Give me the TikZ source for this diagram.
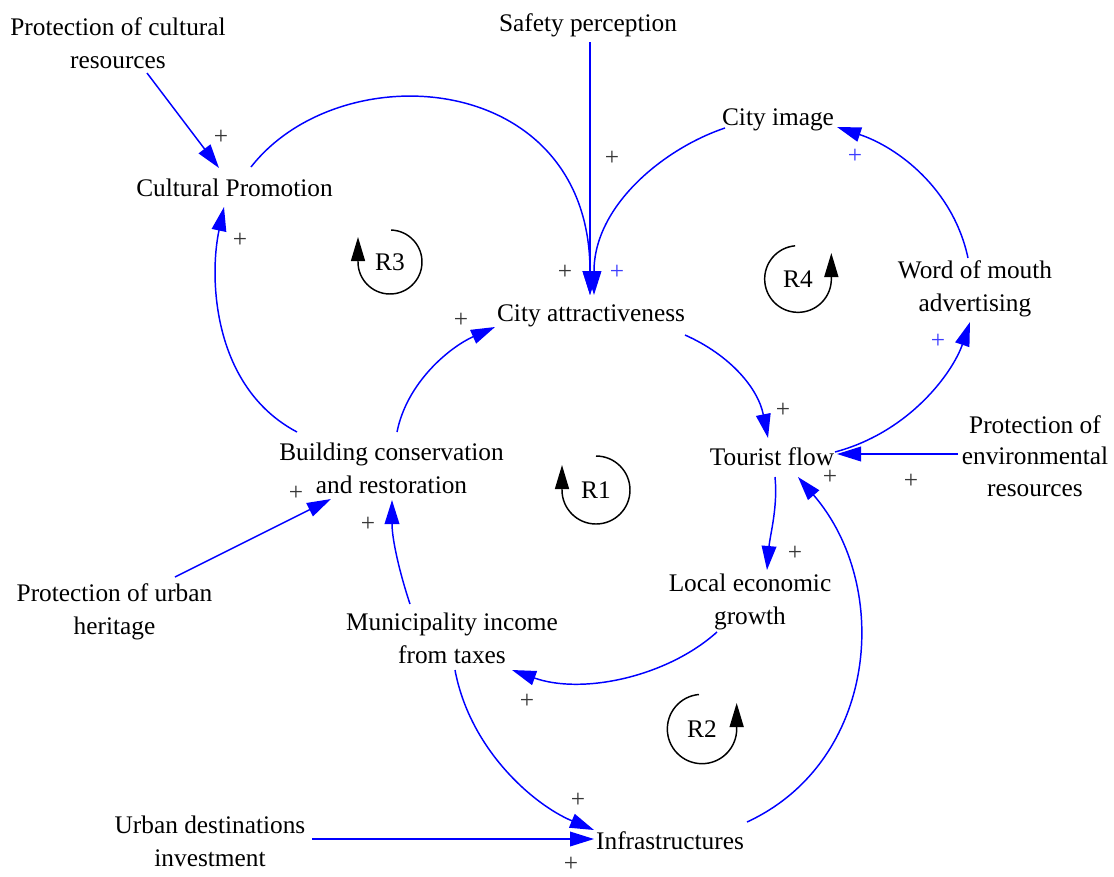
\documentclass[tikz,border=0pt]{standalone}
\usepackage{fontspec}
\setmainfont{Liberation Serif}
\usetikzlibrary{arrows.meta}
\definecolor{cblue}{RGB}{0,0,255}
\definecolor{pblue}{RGB}{60,60,255}
\definecolor{pgray}{RGB}{55,55,55}
\begin{document}
\begin{tikzpicture}[x=0.75pt,y=-0.75pt,
  lbl/.style={font=\fontsize{19}{24.5}\selectfont, align=center, inner sep=0pt},
  conn/.style={draw=cblue, line width=1.1pt, -{Triangle[length=18pt,width=11pt]}},
  loopar/.style={draw=black, line width=1.1pt, -{Triangle[length=18pt,width=10.5pt]}},
  plusd/.style={font=\fontsize{19}{19}\selectfont, text=pgray, inner sep=0pt},
  plusb/.style={font=\fontsize{19}{19}\selectfont, text=pblue, inner sep=0pt}]
\useasboundingbox (0,0) rectangle (1114,876);

% variables
\node[lbl] (pcr) at (118,43) {Protection of cultural\\resources};
\node[lbl] (sp) at (588,25) {Safety perception};
\node[lbl] (ci) at (778,120) {City image};
\node[lbl] (cp) at (234.5,188) {Cultural Promotion};
\node[lbl] (ca) at (591,316) {City attractiveness};
\node[lbl] (wom) at (975,289) {Word of mouth\\advertising};
\node[lbl] (bcr) at (391.5,468) {Building conservation\\and restoration};
\node[lbl] (tf) at (772,457) {Tourist flow};
\node[lbl, font=\fontsize{19}{23.5}\selectfont] (per) at (1035,456) {Protection of\\environmental\\resources};
\node[lbl] (puh) at (114.5,612) {Protection of urban\\heritage};
\node[lbl] (leg) at (750,602) {Local economic\\growth};
\node[lbl] (mit) at (452,638) {Municipality income\\from taxes};
\node[lbl] (udi) at (210,841) {Urban destinations\\investment};
\node[lbl] (inf) at (670,841) {Infrastructures};

% connectors
\draw[conn] ([shift={(29,30)}]pcr.center) -- ([shift={(-15.5,-20)}]cp.center);
\draw[conn] ([shift={(16.5,-21)}]cp.center) .. controls +(90,-115) and +(0,-225) .. ([shift={(-1,-21)}]ca.center);
\draw[conn] ([shift={(-53,8)}]ci.center) .. controls +(-60,20) and +(0,-90) .. ([shift={(3,-21)}]ca.center);
\draw[conn] ([shift={(2,17)}]sp.center) -- ([shift={(-1,-21)}]ca.center);
\draw[conn] ([shift={(94,19)}]ca.center) .. controls +(45,20) and +(-10,-50) .. ([shift={(-4,-19)}]tf.center);
\draw[conn] ([shift={(63,-5)}]tf.center) .. controls +(75,-20) and +(-17,50) .. ([shift={(-5,33)}]wom.center);
\draw[conn] ([shift={(-7,-31)}]wom.center) .. controls +(-15,-70) and +(60,20) .. ([shift={(59,7)}]ci.center);
\draw[conn] ([shift={(-77,-2)}]per.center) -- ([shift={(65,-3)}]tf.center);
\draw[conn] ([shift={(3,20)}]tf.center) .. controls +(3,30) and +(3,-35) .. ([shift={(17,-32)}]leg.center);
\draw[conn] ([shift={(-33,30)}]leg.center) .. controls +(-50,45) and +(70,25) .. ([shift={(60,32)}]mit.center);
\draw[conn] ([shift={(3,32)}]mit.center) .. controls +(15,80) and +(-60,-25) .. ([shift={(-76,-11)}]inf.center);
\draw[conn] ([shift={(102,-2)}]udi.center) -- ([shift={(-76,-2)}]inf.center);
\draw[conn] ([shift={(77,-19)}]inf.center) .. controls +(130,-60) and +(95,110) .. ([shift={(26,20)}]tf.center);
\draw[conn] ([shift={(-42,-34)}]mit.center) .. controls +(-10,-30) and +(0,40) .. ([shift={(0.5,32)}]bcr.center);
\draw[conn] ([shift={(60.5,-35)}]puh.center) -- ([shift={(-60.5,31)}]bcr.center);
\draw[conn] ([shift={(5.5,-36)}]bcr.center) .. controls +(10,-50) and +(-45,20) .. ([shift={(-96,11)}]ca.center);
\draw[conn] ([shift={(-94.5,-36)}]bcr.center) .. controls +(-85,-45) and +(-15,70) .. ([shift={(-10.5,19)}]cp.center);

% polarity signs
\node[plusd] (s1) at (221,137) {+};
\node[plusd] (s2) at (240,240) {+};
\node[plusd] (s3) at (612,158) {+};
\node[plusd] (s4) at (565,272) {+};
\node[plusb] (s5) at (617,272) {+};
\node[plusb] (s6) at (855,156) {+};
\node[plusb] (s7) at (938,341) {+};
\node[plusd] (s8) at (461,320) {+};
\node[plusd] (s9) at (783,410) {+};
\node[plusd] (s10) at (830,477) {+};
\node[plusd] (s11) at (911,481) {+};
\node[plusd] (s12) at (795,553) {+};
\node[plusd] (s13) at (296,493) {+};
\node[plusd] (s14) at (368,524) {+};
\node[plusd] (s15) at (527,701) {+};
\node[plusd] (s16) at (578,800) {+};
\node[plusd] (s17) at (571,864) {+};

% loop markers
\node[lbl] (r3) at (390,262) {R3};
\draw[loopar] (r3.center) ++(88:24pt) arc[start angle=88, end angle=-180, radius=24pt] -- ++(0,-25);
\node[lbl] (r1) at (596,490) {R1};
\draw[loopar] (r1.center) ++(90:25.5pt) arc[start angle=90, end angle=-180, radius=25.5pt] -- ++(0,-25);
\node[lbl] (r4) at (798,279) {R4};
\draw[loopar] (r4.center) ++(95:25pt) arc[start angle=95, end angle=360, radius=25pt] -- ++(0,-26);
\node[lbl] (r2) at (702,729) {R2};
\draw[loopar] (r2.center) ++(95:26pt) arc[start angle=95, end angle=360, radius=26pt] -- ++(0,-26);
\end{tikzpicture}
\end{document}
